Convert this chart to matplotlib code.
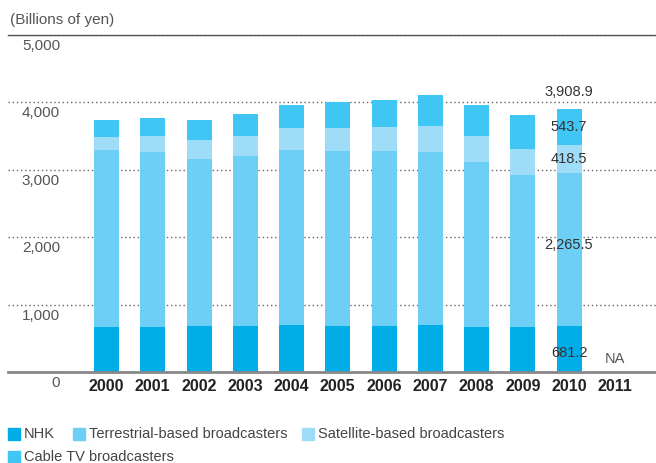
import numpy as np
import matplotlib
matplotlib.use("Agg")
import matplotlib.pyplot as plt
import matplotlib.transforms as mtransforms
from matplotlib.patches import Rectangle

plt.rcParams['font.family'] = ['Liberation Sans', 'DejaVu Sans']

years = ["2000", "2001", "2002", "2003", "2004", "2005", "2006",
         "2007", "2008", "2009", "2010", "2011"]
nhk = [668, 668, 682, 682, 697, 682, 682, 697, 668, 668, 681.2, np.nan]
terrestrial = [2626, 2596, 2478, 2523, 2597, 2597, 2597, 2567, 2448, 2255, 2265.5, np.nan]
satellite = [193, 237, 282, 296, 326, 341, 356, 386, 385, 386, 418.5, np.nan]
cable = [252, 268, 297, 327, 341, 386, 401, 460, 460, 504, 543.7, np.nan]
total_2010 = 3908.9
series_names = ["NHK", "Terrestrial-based broadcasters",
                "Satellite-based broadcasters", "Cable TV broadcasters"]
colors = ["#00ADE6", "#6DCFF6", "#9FDCF7", "#3FC6F4"]
yticks = [0, 1000, 2000, 3000, 4000, 5000]
ytick_labels = ["0", "1,000", "2,000", "3,000", "4,000", "5,000"]

W, H = 656, 463
fig = plt.figure(figsize=(W / 100, H / 100), dpi=100)
ax = fig.add_axes([8 / W, 91 / H, 648 / W, 337 / H])

x = np.arange(len(years))
series = [nhk, terrestrial, satellite, cable]
bottom = np.zeros(len(years))
for vals, c in zip(series, colors):
    v = np.array(vals, dtype=float)
    ax.bar(x, v, width=0.54, bottom=bottom, color=c, zorder=3, linewidth=0)
    bottom = bottom + np.nan_to_num(v)

ax.set_xlim(-2.13, 11.88)
ax.set_ylim(0, 5000)

for s in ["left", "right"]:
    ax.spines[s].set_visible(False)
ax.spines["top"].set_color("#555555")
ax.spines["top"].set_linewidth(1.0)
ax.spines["bottom"].set_color("#888888")
ax.spines["bottom"].set_linewidth(2.0)
ax.spines["bottom"].set_zorder(4)

ax.set_yticks(yticks)
ax.set_yticklabels([])
ax.tick_params(axis="y", length=0)
ax.yaxis.grid(True, linestyle=(0, (1, 2)), color="#666666", linewidth=1.0, zorder=0)

ax.set_xticks(x)
ax.set_xticklabels(years, fontweight="bold", fontsize=11.5, color="#222222")
ax.tick_params(axis="x", length=0, pad=5)

# y tick labels below gridlines
trans = mtransforms.blended_transform_factory(fig.transFigure, ax.transData)
off = mtransforms.ScaledTranslation(0, -11 / 100, fig.dpi_scale_trans)
for v, lab in zip(yticks, ytick_labels):
    ax.text(60 / W, v, lab, transform=trans + off, ha="right", va="center",
            fontsize=11, color="#555555")

fig.text(10 / W, 1 - 20 / H, "(Billions of yen)", ha="left", va="center",
         fontsize=11, color="#555555")

# annotations for 2010
i = 10
b0 = nhk[i]
b1 = b0 + terrestrial[i]
b2 = b1 + satellite[i]
b3 = b2 + cable[i]
ann_col = "#333333"
fs = 10.5
ax.text(i, total_2010, f"{total_2010:,.1f}", ha="center", va="bottom", fontsize=fs,
        color=ann_col, transform=ax.transData + mtransforms.ScaledTranslation(0, 10 / 100, fig.dpi_scale_trans))
ax.text(i, (b2 + b3) / 2, f"{cable[i]:,.1f}", ha="center", va="center", fontsize=fs, color=ann_col, zorder=5)
ax.text(i, (b1 + b2) / 2, f"{satellite[i]:,.1f}", ha="center", va="center", fontsize=fs, color=ann_col, zorder=5)
ax.text(i, (b0 + b1) / 2 + 70, f"{terrestrial[i]:,.1f}", ha="center", va="center", fontsize=fs, color=ann_col, zorder=5)
ax.text(i, b0 * 0.42, f"{nhk[i]:,.1f}", ha="center", va="center", fontsize=fs, color=ann_col, zorder=5)
ax.text(11, 190, "NA", ha="center", va="center", fontsize=fs, color="#555555", zorder=5)

# legend (manual, row-wise)
leg_items = [(8, 434, 0), (73, 434, 1), (302, 434, 2), (8, 457, 3)]
for px, py, k in leg_items:
    fig.patches.append(Rectangle((px / W, 1 - (py + 6) / H), 12 / W, 12 / H,
                                 transform=fig.transFigure, color=colors[k], figure=fig))
    fig.text((px + 16) / W, 1 - py / H, series_names[k], ha="left", va="center",
             fontsize=10.5, color="#444444")

fig.savefig("out.png", dpi=100)
